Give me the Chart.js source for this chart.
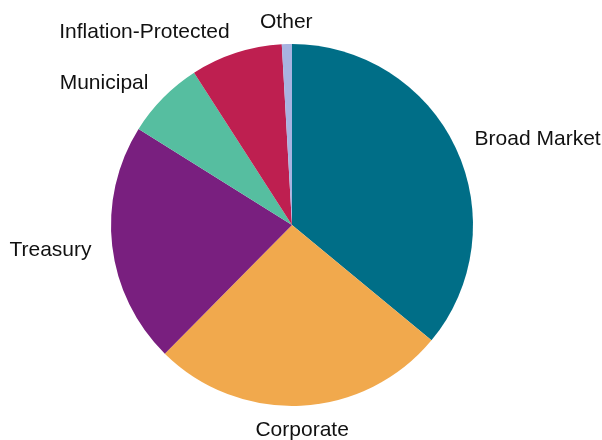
<!DOCTYPE html>
<html>
<head>
<meta charset="utf-8">
<script src="https://cdn.jsdelivr.net/npm/chart.js@4/dist/chart.umd.min.js"></script>
<style>
html,body{margin:0;padding:0;background:#fff;}
#wrap{width:602px;height:440px;}
</style>
</head>
<body>
<div id="wrap"><canvas id="c" width="602" height="440"></canvas></div>
<script>
const categories = ["Broad Market", "Corporate", "Treasury", "Municipal", "Inflation-Protected", "Other"];
const shares = [36.0, 26.4, 21.5, 7.0, 8.2, 0.9];
const colors = ["#006e87", "#f1a94d", "#791f7f", "#56bea0", "#be1f50", "#a8b3e0"];

const outsideLabels = {
  id: 'outsideLabels',
  afterDatasetsDraw(chart) {
    const ctx = chart.ctx;
    const meta = chart.getDatasetMeta(0);
    ctx.save();
    ctx.font = '21px "Liberation Sans", Arial, sans-serif';
    ctx.fillStyle = '#111111';
    ctx.textBaseline = 'middle';
    meta.data.forEach((arc, i) => {
      const p = arc.getProps(['x','y','startAngle','endAngle','outerRadius'], true);
      const mid = (p.startAngle + p.endAngle) / 2;
      const x = p.x + Math.cos(mid) * p.outerRadius * 1.115;
      const y = p.y + Math.sin(mid) * p.outerRadius * 1.128 + 1.5;
      const c = Math.cos(mid);
      ctx.textAlign = Math.abs(c) < 0.1 ? 'center' : (c > 0 ? 'left' : 'right');
      ctx.fillText(categories[i], x, y);
    });
    ctx.restore();
  }
};

new Chart(document.getElementById('c'), {
  type: 'pie',
  data: {
    labels: categories,
    datasets: [{
      data: shares,
      backgroundColor: colors,
      borderWidth: 0,
      hoverOffset: 0,
      offset: 0
    }]
  },
  options: {
    responsive: false,
    animation: false,
    layout: { padding: { top: 44, bottom: 34, left: 100, right: 118 } },
    plugins: { legend: { display: false }, tooltip: { enabled: false } }
  },
  plugins: [outsideLabels]
});
</script>
</body>
</html>
